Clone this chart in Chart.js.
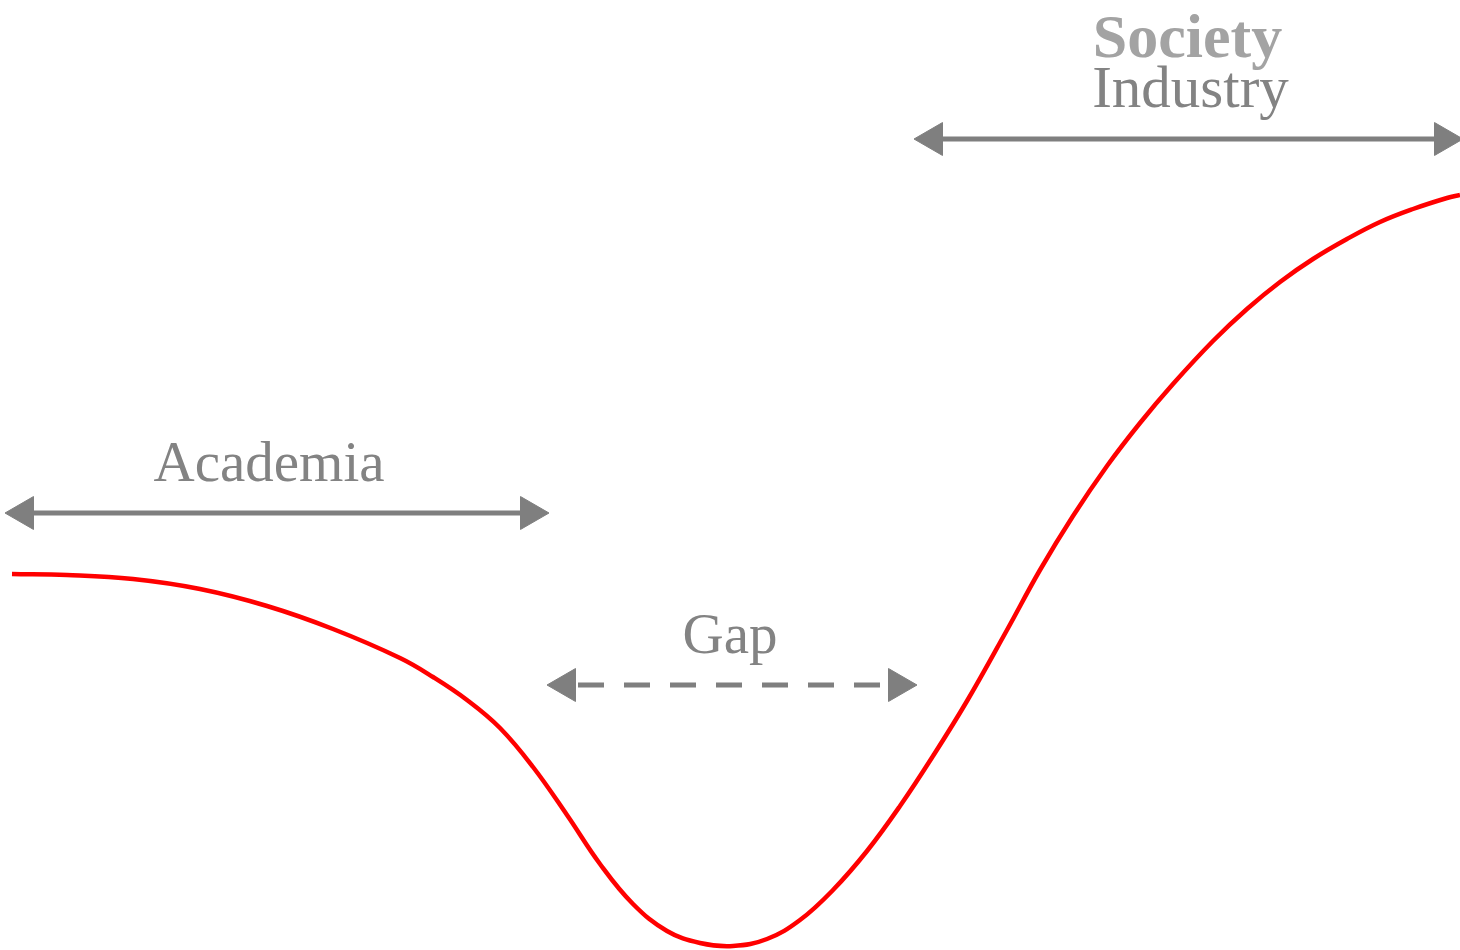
<!DOCTYPE html>
<html>
<head>
<meta charset="utf-8">
<script src="https://cdn.jsdelivr.net/npm/chart.js@4.4.1/dist/chart.umd.min.js"></script>
<style>
  html, body { margin: 0; padding: 0; background: #fff; }
  #wrap { position: relative; width: 1460px; height: 950px; }
</style>
</head>
<body>
<div id="wrap"><canvas id="gap"></canvas></div>
<script>
// --- DATA (x = progression, y = level, same units as the frame) ---
const curveX = [12, 67, 133, 200, 267, 333, 400, 433, 467, 500, 533, 567, 600, 633, 667, 700, 733, 767, 800, 833, 867, 900, 933, 967, 1007, 1040, 1073, 1107, 1140, 1173, 1213, 1247, 1280, 1313, 1347, 1380, 1413, 1447, 1460];
const curveY = [376, 375, 371, 361, 344, 321, 292, 273, 250, 222, 183, 135, 86, 46, 19, 7, 4, 11, 30, 60, 99, 144, 194, 249, 320, 380, 434, 484, 527, 566, 609, 641, 668, 691, 711, 728, 741, 752, 755];

// arrow spans: [start, end] on x, and level y
const arrowNames = ['Academia', 'Gap', 'Industry'];
const arrowStart = [24, 566, 933];
const arrowEnd = [530, 898, 1444];
const arrowLevel = [437, 265, 811];
const arrowDashed = [false, true, false];

// extra title above the Industry arrow
const topTitle = 'Society';

const GREY = '#7f7f7f';

const arrowSets = arrowNames.map((name, i) => ({
    label: name,
    data: [{ x: arrowStart[i], y: arrowLevel[i] }, { x: arrowEnd[i], y: arrowLevel[i] }],
    borderColor: GREY,
    backgroundColor: GREY,
    borderWidth: 5,
    borderDash: arrowDashed[i] ? [26, 20] : [],
    borderDashOffset: arrowDashed[i] ? -12 : 0,
    pointStyle: 'triangle',
    pointRadius: 19,
    pointHoverRadius: 19,
    pointBorderWidth: 1,
    pointRotation: [-90, 90],
    tension: 0
}));

// labels drawn over arrow midpoints
const labelPlugin = {
    id: 'arrowLabels',
    afterDatasetsDraw(chart) {
        const { ctx, scales: { x, y } } = chart;
        ctx.save();
        ctx.textAlign = 'center';
        ctx.textBaseline = 'alphabetic';
        arrowNames.forEach((name, i) => {
            const cx = x.getPixelForValue((arrowStart[i] + arrowEnd[i]) / 2);
            const cy = y.getPixelForValue(arrowLevel[i]);
            ctx.fillStyle = '#838383';
            const size = name === 'Industry' ? 59 : 57;
            ctx.font = size + 'px "Liberation Serif", "DejaVu Serif", serif';
            const dx = name === 'Academia' ? -8 : (name === 'Industry' ? 2 : -2);
            ctx.fillText(name, cx + dx, cy - 32);
            if (name === 'Industry') {
                ctx.fillStyle = '#a3a3a3';
                ctx.font = 'bold 62px "Liberation Serif", "DejaVu Serif", serif';
                ctx.fillText(topTitle, cx - 1, cy - 82);
            }
        });
        ctx.restore();
    }
};

new Chart(document.getElementById('gap'), {
    type: 'line',
    data: {
        datasets: [
            {
                label: 'Curve',
                data: curveX.map((v, i) => ({ x: v, y: curveY[i] })),
                borderColor: '#ff0000',
                borderWidth: 4.5,
                pointRadius: 0,
                tension: 0.4,
                fill: false
            },
            ...arrowSets
        ]
    },
    options: {
        responsive: true,
        maintainAspectRatio: false,
        animation: false,
        clip: false,
        layout: { padding: 0, autoPadding: false },
        plugins: {
            legend: { display: false },
            tooltip: { enabled: false }
        },
        scales: {
            x: { type: 'linear', min: 0, max: 1460, display: false },
            y: { type: 'linear', min: 0, max: 950, display: false }
        }
    },
    plugins: [labelPlugin]
});
</script>
</body>
</html>
